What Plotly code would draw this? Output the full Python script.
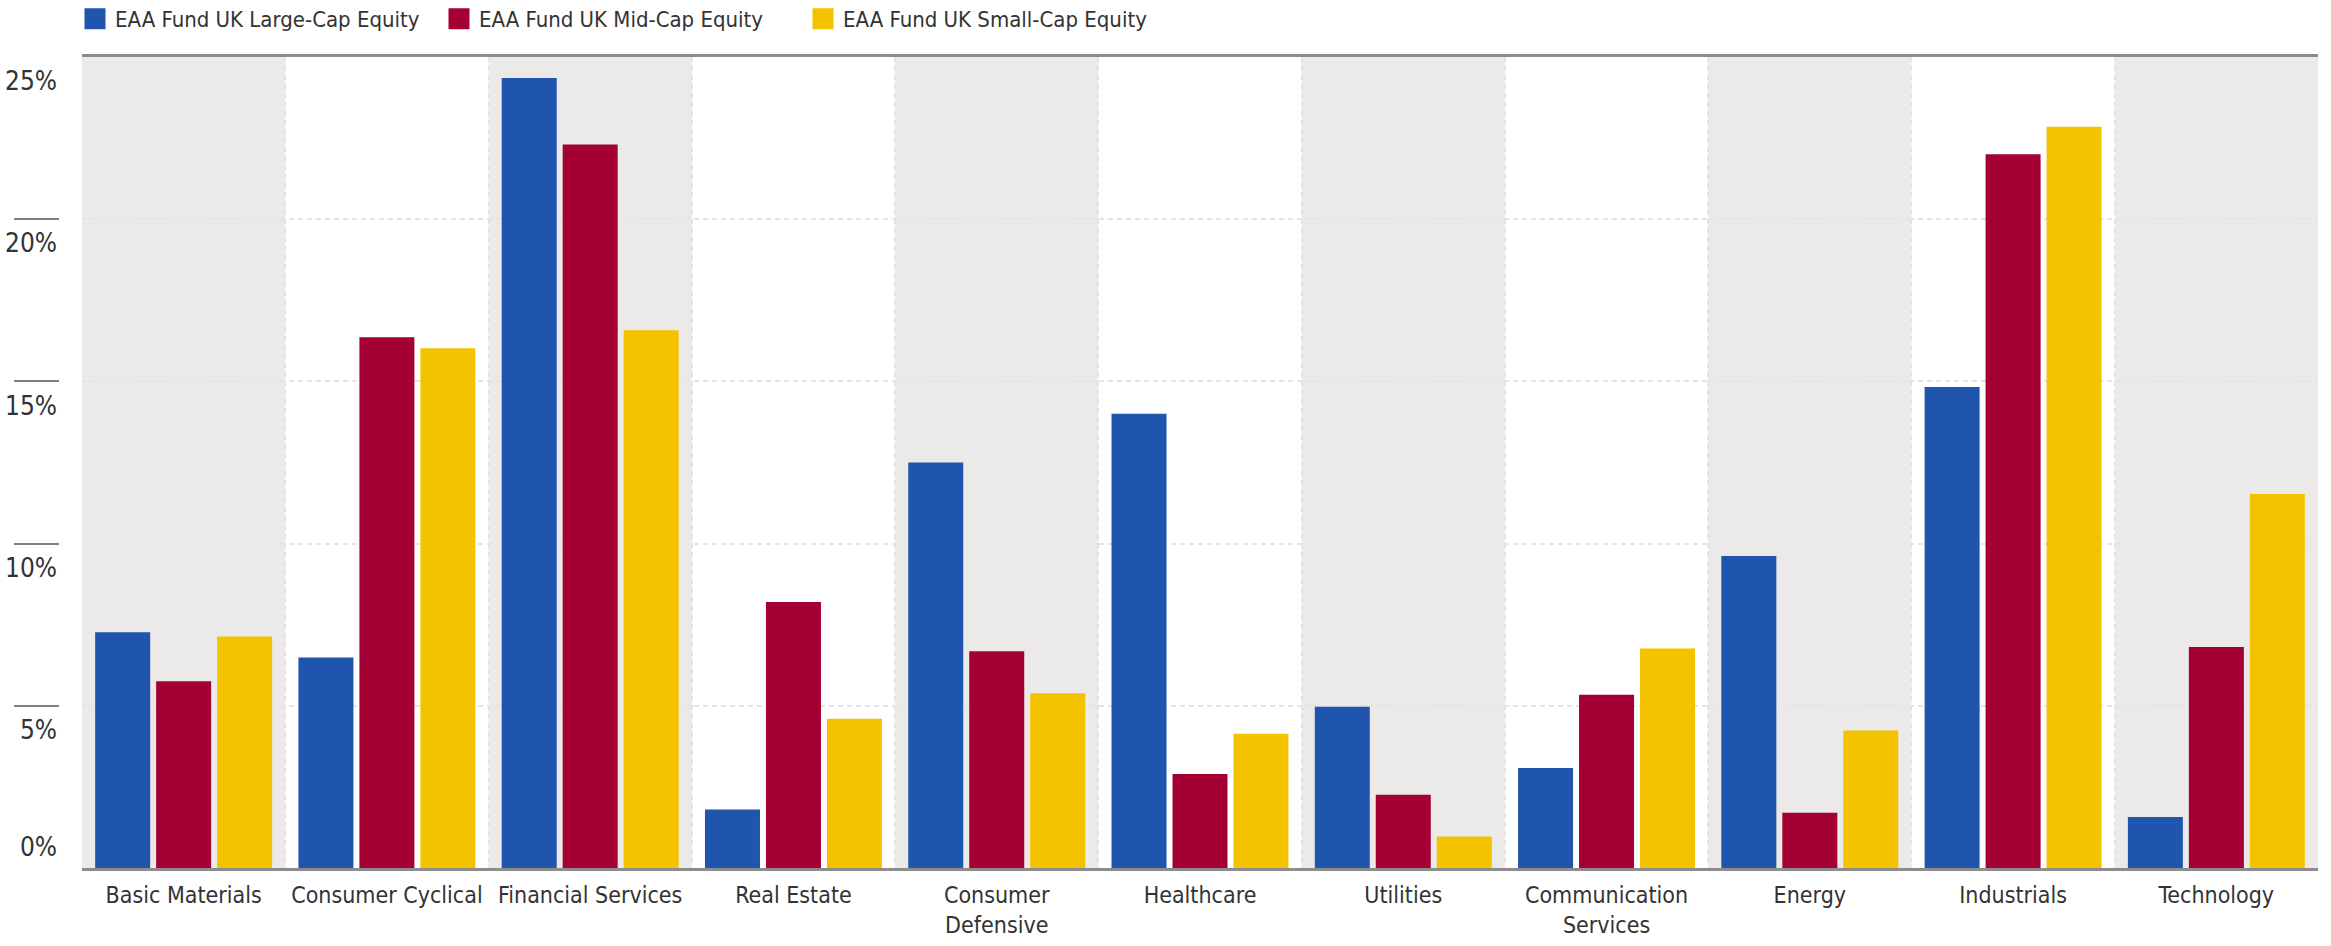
import plotly.graph_objects as go

categories = ["Basic Materials", "Consumer Cyclical", "Financial Services", "Real Estate",
              "Consumer<br>Defensive", "Healthcare", "Utilities", "Communication<br>Services",
              "Energy", "Industrials", "Technology"]
series_names = ["EAA Fund UK Large-Cap Equity", "EAA Fund UK Mid-Cap Equity", "EAA Fund UK Small-Cap Equity"]
large_cap = [7.27, 6.49, 24.35, 1.80, 12.5, 14.0, 4.97, 3.08, 9.62, 14.83, 1.57]
mid_cap = [5.76, 16.36, 22.3, 8.20, 6.68, 2.90, 2.26, 5.34, 1.70, 22.0, 6.81]
small_cap = [7.14, 16.02, 16.58, 4.60, 5.39, 4.14, 0.97, 6.77, 4.24, 22.85, 11.53]
y_tickvals = [0, 5, 10, 15, 20, 25]
y_ticktext = ["0%", "5%", "10%", "15%", "20%", "25%"]
y_range = [0, 25]

colors = ["#2055ae", "#a50034", "#f4c300"]
FONT = "DejaVu Sans Condensed, DejaVu Sans, sans-serif"
TXT = "#333333"

W, H = 2331, 946
ML, MR, MT, MB = 14, 13, 57, 78
PW = W - ML - MR
PH = H - MT - MB

fig = go.Figure()
for name, vals, c in zip(series_names, [large_cap, mid_cap, small_cap], colors):
    fig.add_trace(go.Bar(x=categories, y=vals, name=name, marker=dict(color=c, line=dict(width=0)),
                         showlegend=False))
# legend entries
for name, c in zip(series_names, colors):
    fig.add_trace(go.Scatter(x=[None], y=[None], mode="markers", name=name, yaxis="y2",
                             marker=dict(symbol="square", size=16, color=c, line=dict(width=5, color=c))))
fig.add_trace(go.Scatter(x=[None], y=[None], mode="markers", yaxis="y3", showlegend=False))
# helper subplot left of the plot whose gridlines form the short tick marks
fig.add_trace(go.Scatter(x=[None], y=[None], mode="markers", xaxis="x2", yaxis="y4", showlegend=False))

shapes = []
for i in range(0, len(categories), 2):
    shapes.append(dict(type="rect", xref="x", yref="paper", x0=i - 0.5, x1=i + 0.5, y0=0, y1=1,
                       fillcolor="#ebeae8", line=dict(width=0), layer="between"))

label_pos = (57 - ML) / PW

fig.update_layout(
    width=W, height=H,
    margin=dict(l=ML, r=MR, t=MT, b=MB, autoexpand=False),
    paper_bgcolor="white", plot_bgcolor="rgba(0,0,0,0)",
    barmode="group", bargap=0.10, bargroupgap=0.098,
    font=dict(family=FONT, color=TXT, size=23),
    shapes=shapes,
    legend=dict(orientation="h", x=(75 - ML) / PW, xanchor="left", y=1 + (MT - 19) / PH, yanchor="middle",
                font=dict(size=22, color=TXT, family=FONT), bgcolor="rgba(0,0,0,0)",
                entrywidth=319, entrywidthmode="pixels", itemclick=False),
    xaxis=dict(domain=[(82 - ML) / PW, 1], showline=True, linecolor="#8c8c8c", linewidth=3, mirror=True,
               showgrid=True, gridcolor="#e4e4e4", griddash="5px,4px", gridwidth=2,
               tickson="boundaries", ticks="", tickangle=0, automargin=False, ticklabelstandoff=4,
               tickfont=dict(size=23, color=TXT, family=FONT),
               range=[-0.5, len(categories) - 0.5]),
    yaxis=dict(anchor="x", range=y_range, tickvals=y_tickvals,
               showticklabels=False, ticks="",
               showgrid=True, gridcolor="#e4e4e4", griddash="5px,4px", gridwidth=2, zeroline=False,
               showline=False, automargin=False),
    yaxis2=dict(anchor="free", position=label_pos, overlaying="y", range=y_range,
                tickvals=y_tickvals[1:], ticktext=y_ticktext[1:], ticks="", showgrid=False,
                zeroline=False, showline=False, ticklabelshift=24, automargin=False,
                tickfont=dict(size=26, color=TXT, family=FONT)),
    yaxis3=dict(anchor="free", position=label_pos, overlaying="y", range=y_range,
                tickvals=y_tickvals[:1], ticktext=y_ticktext[:1], ticks="", showgrid=False,
                zeroline=False, showline=False, ticklabelshift=-21, automargin=False,
                tickfont=dict(size=26, color=TXT, family=FONT)),
    xaxis2=dict(domain=[0, (59 - ML) / PW], anchor="y4", range=[0, 1], visible=False, showgrid=False,
                automargin=False),
    yaxis4=dict(domain=[0, 1], anchor="x2", range=y_range, tickvals=y_tickvals, showticklabels=False,
                ticks="", showgrid=True, gridcolor="#808080", gridwidth=2, zeroline=False, showline=False,
                automargin=False),
)

fig.write_html("out.html")
